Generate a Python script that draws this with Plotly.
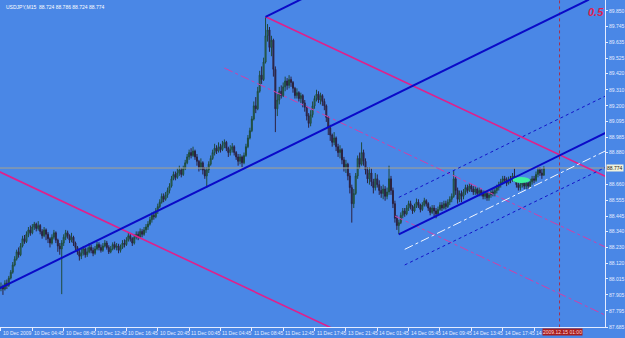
import plotly.graph_objects as go

# ---------------- data ----------------
symbol_title = "USDJPY,M15  88.724 88.786 88.724 88.774"
first_open = 87.950
closes = [
    87.960, 87.945, 87.985, 87.970, 88.020, 88.060, 88.110, 88.150, 88.200, 88.180,
    88.240, 88.290, 88.270, 88.320, 88.350, 88.330, 88.370, 88.390, 88.360, 88.380,
    88.340, 88.310, 88.350, 88.320, 88.290, 88.260, 88.300, 88.330, 88.280, 88.240,
    88.220, 88.260, 88.300, 88.330, 88.310, 88.280, 88.300, 88.260, 88.230, 88.200,
    88.170, 88.190, 88.220, 88.180, 88.200, 88.230, 88.210, 88.190, 88.220, 88.250,
    88.230, 88.210, 88.240, 88.260, 88.230, 88.200, 88.220, 88.250, 88.230, 88.240,
    88.210, 88.230, 88.260, 88.250, 88.280, 88.310, 88.290, 88.260, 88.300, 88.320,
    88.300, 88.340, 88.320, 88.350, 88.370, 88.390, 88.420, 88.450, 88.440, 88.480,
    88.510, 88.540, 88.580, 88.560, 88.590, 88.620, 88.650, 88.700, 88.730, 88.710,
    88.740, 88.760, 88.730, 88.770, 88.810, 88.850, 88.880, 88.860, 88.890, 88.850,
    88.820, 88.780, 88.810, 88.760, 88.720, 88.760, 88.800, 88.840, 88.880, 88.910,
    88.890, 88.920, 88.900, 88.930, 88.950, 88.910, 88.880, 88.900, 88.920, 88.880,
    88.850, 88.820, 88.850, 88.810, 88.860, 88.920, 88.980, 89.030, 89.110, 89.200,
    89.180, 89.300, 89.410, 89.380, 89.500, 89.680, 89.720, 89.600, 89.650, 89.450,
    89.180, 89.240, 89.300, 89.270, 89.330, 89.370, 89.340, 89.380, 89.360, 89.320,
    89.270, 89.290, 89.250, 89.270, 89.220, 89.190, 89.130, 89.080, 89.140, 89.200,
    89.250, 89.280, 89.240, 89.270, 89.230, 89.200, 89.120, 89.050, 89.000, 88.950,
    88.980, 88.920, 88.880, 88.900, 88.830, 88.780, 88.800, 88.720, 88.640, 88.530,
    88.600, 88.720, 88.840, 88.800, 88.880, 88.820, 88.760, 88.700, 88.740, 88.680,
    88.640, 88.700, 88.660, 88.620, 88.600, 88.630, 88.580, 88.610, 88.700, 88.620,
    88.530, 88.430, 88.380, 88.400, 88.450, 88.480, 88.460, 88.500, 88.530, 88.510,
    88.480, 88.510, 88.540, 88.520, 88.490, 88.520, 88.550, 88.530, 88.500, 88.470,
    88.500, 88.480, 88.460, 88.490, 88.520, 88.500, 88.530, 88.510, 88.540, 88.560,
    88.580, 88.700, 88.620, 88.560, 88.600, 88.580, 88.610, 88.640, 88.620, 88.650,
    88.630, 88.610, 88.630, 88.600, 88.620, 88.600, 88.580, 88.600, 88.570, 88.590,
    88.610, 88.600, 88.620, 88.640, 88.660, 88.680, 88.700, 88.690, 88.670, 88.700,
    88.690, 88.720, 88.700, 88.660, 88.640, 88.660, 88.680, 88.650, 88.670, 88.650,
    88.680, 88.700, 88.690, 88.730, 88.760, 88.740, 88.724, 88.774,
]
highs = [
    87.990, 87.975, 88.005, 88.010, 88.035, 88.075, 88.130, 88.170, 88.215, 88.230,
    88.260, 88.310, 88.315, 88.340, 88.370, 88.380, 88.390, 88.405, 88.400, 88.410,
    88.390, 88.355, 88.370, 88.360, 88.335, 88.300, 88.320, 88.350, 88.340, 88.290,
    88.260, 88.280, 88.320, 88.350, 88.345, 88.320, 88.330, 88.310, 88.270, 88.240,
    88.215, 88.220, 88.240, 88.230, 88.230, 88.260, 88.250, 88.230, 88.240, 88.270,
    88.265, 88.250, 88.260, 88.280, 88.275, 88.245, 88.240, 88.265, 88.270, 88.260,
    88.255, 88.250, 88.280, 88.285, 88.300, 88.330, 88.325, 88.300, 88.320, 88.340,
    88.340, 88.360, 88.355, 88.370, 88.390, 88.410, 88.440, 88.470, 88.475, 88.500,
    88.530, 88.560, 88.600, 88.600, 88.610, 88.640, 88.670, 88.720, 88.750, 88.750,
    88.770, 88.790, 88.775, 88.790, 88.830, 88.870, 88.900, 88.910, 88.920, 88.900,
    88.870, 88.830, 88.840, 88.820, 88.780, 88.780, 88.820, 88.860, 88.900, 88.940,
    88.930, 88.950, 88.940, 88.960, 88.970, 88.960, 88.920, 88.930, 88.945, 88.930,
    88.890, 88.870, 88.870, 88.860, 88.880, 88.940, 89.000, 89.050, 89.130, 89.230,
    89.260, 89.330, 89.440, 89.470, 89.530, 89.810, 89.760, 89.740, 89.680, 89.660,
    89.470, 89.280, 89.330, 89.340, 89.360, 89.400, 89.390, 89.410, 89.400, 89.370,
    89.330, 89.320, 89.300, 89.290, 89.280, 89.240, 89.200, 89.150, 89.170, 89.230,
    89.270, 89.310, 89.300, 89.290, 89.280, 89.250, 89.210, 89.130, 89.070, 89.010,
    89.020, 88.990, 88.940, 88.930, 88.910, 88.850, 88.830, 88.810, 88.740, 88.660,
    88.630, 88.740, 88.860, 88.880, 88.950, 88.900, 88.840, 88.780, 88.780, 88.770,
    88.700, 88.740, 88.730, 88.690, 88.650, 88.660, 88.650, 88.640, 88.790, 88.720,
    88.640, 88.550, 88.450, 88.420, 88.470, 88.500, 88.500, 88.520, 88.550, 88.550,
    88.520, 88.530, 88.565, 88.560, 88.530, 88.540, 88.570, 88.560, 88.540, 88.510,
    88.520, 88.520, 88.500, 88.510, 88.540, 88.540, 88.550, 88.550, 88.560, 88.580,
    88.600, 88.760, 88.720, 88.640, 88.620, 88.620, 88.630, 88.660, 88.660, 88.670,
    88.665, 88.650, 88.650, 88.640, 88.640, 88.630, 88.620, 88.620, 88.610, 88.610,
    88.630, 88.630, 88.640, 88.660, 88.680, 88.700, 88.720, 88.720, 88.710, 88.715,
    88.720, 88.740, 88.770, 88.710, 88.680, 88.680, 88.700, 88.690, 88.690, 88.680,
    88.700, 88.720, 88.720, 88.750, 88.780, 88.780, 88.770, 88.786,
]
lows = [
    87.930, 87.905, 87.935, 87.945, 87.960, 88.010, 88.050, 88.100, 88.140, 88.160,
    88.170, 88.230, 88.255, 88.260, 88.300, 88.310, 88.320, 88.350, 88.340, 88.345,
    88.320, 88.290, 88.300, 88.280, 88.260, 88.230, 88.250, 88.285, 88.260, 88.200,
    88.180, 87.910, 88.240, 88.280, 88.290, 88.260, 88.265, 88.240, 88.210, 88.180,
    88.140, 88.150, 88.175, 88.160, 88.165, 88.190, 88.190, 88.170, 88.180, 88.210,
    88.210, 88.195, 88.200, 88.230, 88.215, 88.185, 88.190, 88.210, 88.215, 88.210,
    88.190, 88.195, 88.220, 88.230, 88.240, 88.270, 88.270, 88.240, 88.250, 88.285,
    88.280, 88.290, 88.300, 88.310, 88.330, 88.350, 88.380, 88.400, 88.420, 88.430,
    88.460, 88.500, 88.530, 88.540, 88.550, 88.570, 88.600, 88.640, 88.690, 88.690,
    88.700, 88.720, 88.710, 88.720, 88.760, 88.800, 88.830, 88.840, 88.850, 88.830,
    88.790, 88.750, 88.760, 88.730, 88.700, 88.640, 88.740, 88.790, 88.830, 88.860,
    88.870, 88.880, 88.880, 88.890, 88.910, 88.890, 88.850, 88.860, 88.880, 88.860,
    88.830, 88.790, 88.800, 88.780, 88.800, 88.850, 88.910, 88.970, 89.020, 89.100,
    89.150, 89.170, 89.290, 89.350, 89.370, 89.490, 89.640, 89.570, 89.540, 89.400,
    89.020, 89.130, 89.210, 89.250, 89.260, 89.300, 89.310, 89.320, 89.330, 89.290,
    89.250, 89.250, 89.230, 89.220, 89.190, 89.160, 89.100, 89.050, 89.060, 89.120,
    89.180, 89.230, 89.220, 89.210, 89.200, 89.170, 89.090, 89.000, 88.960, 88.920,
    88.930, 88.890, 88.850, 88.840, 88.800, 88.750, 88.740, 88.690, 88.600, 88.400,
    88.500, 88.590, 88.700, 88.770, 88.790, 88.790, 88.730, 88.670, 88.660, 88.650,
    88.600, 88.620, 88.640, 88.590, 88.570, 88.560, 88.550, 88.560, 88.590, 88.590,
    88.500, 88.400, 88.350, 88.320, 88.390, 88.430, 88.440, 88.450, 88.480, 88.490,
    88.460, 88.470, 88.500, 88.500, 88.470, 88.480, 88.510, 88.510, 88.480, 88.450,
    88.460, 88.440, 88.430, 88.450, 88.480, 88.480, 88.490, 88.490, 88.500, 88.520,
    88.540, 88.570, 88.590, 88.530, 88.540, 88.540, 88.560, 88.590, 88.600, 88.610,
    88.610, 88.590, 88.590, 88.580, 88.580, 88.580, 88.560, 88.560, 88.550, 88.550,
    88.570, 88.580, 88.580, 88.600, 88.620, 88.640, 88.660, 88.670, 88.650, 88.660,
    88.670, 88.680, 88.680, 88.640, 88.620, 88.620, 88.640, 88.630, 88.630, 88.630,
    88.640, 88.660, 88.670, 88.680, 88.710, 88.720, 88.700, 88.724,
]

# time-axis labels (one every 16 bars); the last one is mostly hidden by the red time box
x_label_bars = [0, 16, 32, 48, 64, 80, 96, 112, 128, 144, 160, 176, 192, 208, 224, 240, 256, 272]
x_label_text = ["10 Dec 2009", "10 Dec 04:45", "10 Dec 08:45", "10 Dec 12:45", "10 Dec 16:45",
                "10 Dec 20:45", "11 Dec 00:45", "11 Dec 04:45", "11 Dec 08:45", "11 Dec 12:45",
                "11 Dec 17:45", "13 Dec 21:45", "14 Dec 01:45", "14 Dec 05:45", "14 Dec 09:45",
                "14 Dec 13:45", "14 Dec 17:45", "14"]
# price-axis labels
y_ticks = [89.850, 89.745, 89.635, 89.525, 89.420, 89.310, 89.200, 89.095, 88.985, 88.880,
           88.660, 88.555, 88.445, 88.340, 88.230, 88.120, 88.015, 87.905, 87.795, 87.685]
current_price = 88.774

# trend-line anchors (bar index, price)
blue_main_x, blue_main_y = [-1, 300], [87.948, 89.928]
blue_peak_x, blue_peak_y = [135, 160], [89.810, 89.975]
pink_top_x, pink_top_y = [135, 309], [89.810, 88.714]
pink_bot_x, pink_bot_y = [-1, 172], [88.750, 87.657]
blue_ch_x, blue_ch_y = [203, 309], [88.320, 89.018]
blue_ch_up_x, blue_ch_up_y = [203, 309], [88.573, 89.271]
blue_ch_dn_x, blue_ch_dn_y = [206, 309], [88.110, 88.782]
white_mid_x, white_mid_y = [206, 309], [88.217, 88.895]
pink_mid_x, pink_mid_y = [114, 309], [89.459, 88.229]
pink_low_x, pink_low_y = [201, 309], [88.445, 87.762]
vline_bar = 285
vline_label = "2009.12.15 01:00"
ellipse_x = [261, 270]
ellipse_y = [88.672, 88.712]

# ---------------- figure ----------------
bars = list(range(len(closes)))
opens = [first_open] + closes[:-1]
hi = [max(h, o, c) for h, o, c in zip(highs, opens, closes)]
lo = [min(l, o, c) for l, o, c in zip(lows, opens, closes)]

BG = "#4a87e6"
FG = "#e4ecff"
fig = go.Figure()

def line(xs, ys, color, width, dash="solid"):
    fig.add_trace(go.Scatter(x=xs, y=ys, mode="lines", line=dict(color=color, width=width, dash=dash),
                             hoverinfo="skip", showlegend=False))

# horizontal current-price line
line([-1, 310], [current_price, current_price], "#a9a28c", 1)
# vertical time line
line([vline_bar, vline_bar], [87.6, 90.0], "#a8304c", 1, "dot")

fig.add_trace(go.Candlestick(
    x=bars, open=opens, high=hi, low=lo, close=closes,
    increasing=dict(line=dict(color="#1f4a3c", width=1), fillcolor="#3d8c6e"),
    decreasing=dict(line=dict(color="#2b2240", width=1), fillcolor="#3b3050"),
    whiskerwidth=0, hoverinfo="skip", showlegend=False))

line(pink_mid_x, pink_mid_y, "#d040a8", 1, "dashdot")
line(pink_low_x, pink_low_y, "#d040a8", 1, "dashdot")
line(pink_top_x, pink_top_y, "#e0208c", 1.6)
line(pink_bot_x, pink_bot_y, "#e0208c", 1.6)
line(blue_main_x, blue_main_y, "#0a0ac8", 2)
line(blue_peak_x, blue_peak_y, "#0a0ac8", 2)
line(blue_ch_x, blue_ch_y, "#0a0ac8", 2)
line(blue_ch_up_x, blue_ch_up_y, "#1414c8", 1, "dot")
line(blue_ch_dn_x, blue_ch_dn_y, "#1414c8", 1, "dot")
line(white_mid_x, white_mid_y, "#f4f8ff", 1, "dashdot")

fig.add_shape(type="circle", xref="x", yref="y", x0=ellipse_x[0], x1=ellipse_x[1],
              y0=ellipse_y[0], y1=ellipse_y[1], fillcolor="#3ff0a0", line=dict(width=0))

ann = []
ann.append(dict(text=symbol_title, xref="paper", yref="paper", x=0.006, y=1, xanchor="left",
                yanchor="top", yshift=-2, showarrow=False, font=dict(size=5, color="#ffffff")))
ann.append(dict(text="<b><i>0.5</i></b>", xref="paper", yref="paper", x=0.985, y=0.963,
                xanchor="center", yanchor="middle", showarrow=False,
                font=dict(size=11, color="#e0204f", family="Liberation Sans")))
for b, t in zip(x_label_bars, x_label_text):
    ann.append(dict(text=t, xref="x", yref="paper", x=b, y=0, xanchor="left", yanchor="top",
                    xshift=0, yshift=-1, showarrow=False, font=dict(size=5, color=FG)))
ann.append(dict(text=f"{current_price:.3f}", xref="paper", yref="y", x=1, y=current_price,
                xanchor="left", yanchor="middle", xshift=1, showarrow=False, bgcolor="#f2f2da",
                borderpad=0, font=dict(size=5, color="#202020")))
ann.append(dict(text=vline_label, xref="x", yref="paper", x=vline_bar, y=0, xanchor="center",
                yanchor="top", yshift=-1, xshift=3, showarrow=False, bgcolor="#a81c1c", borderpad=0,
                font=dict(size=5, color="#ffd8d8")))

fig.update_layout(
    width=625, height=338, margin=dict(l=0, r=20, t=0, b=11),
    paper_bgcolor=BG, plot_bgcolor=BG,
    font=dict(family="Liberation Sans", size=5, color=FG),
    annotations=ann, showlegend=False,
    xaxis=dict(range=[-0.5, 308.2], showgrid=False, zeroline=False, showline=True, linecolor=FG,
               linewidth=1, ticks="outside", ticklen=3, tickcolor=FG, tickvals=x_label_bars,
               showticklabels=False, rangeslider=dict(visible=False), fixedrange=True),
    yaxis=dict(range=[87.685, 89.925], side="right", showgrid=False, zeroline=False, showline=True,
               linecolor=FG, linewidth=1, ticks="outside", ticklen=2, tickcolor=FG,
               tickvals=y_ticks, ticktext=[f"{v:.3f}" for v in y_ticks],
               tickfont=dict(size=5, color=FG), fixedrange=True),
)

fig.write_html("out.html")
